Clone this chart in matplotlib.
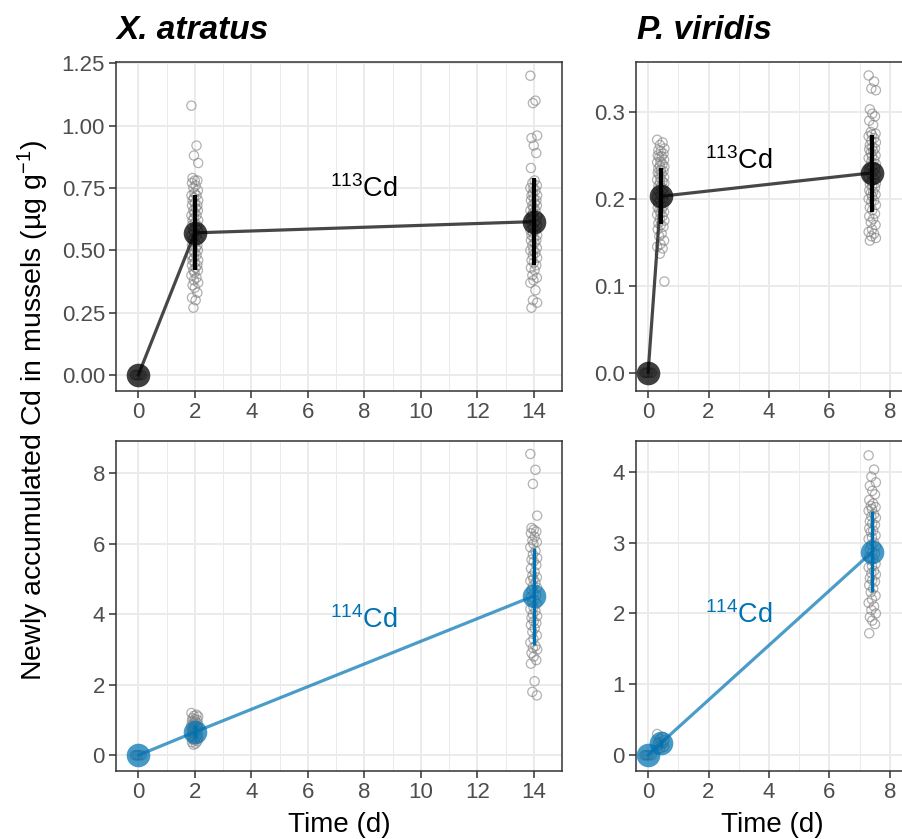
import matplotlib
matplotlib.use("Agg")
import matplotlib.pyplot as plt

plt.rcParams['font.family'] = ['Liberation Sans', 'DejaVu Sans']
plt.rcParams['mathtext.fontset'] = 'custom'
plt.rcParams['mathtext.rm'] = 'Liberation Sans'
plt.rcParams['mathtext.it'] = 'Liberation Sans:italic'
plt.rcParams['mathtext.bf'] = 'Liberation Sans:bold'

# ---------------- data ----------------
species = ['X. atratus', 'P. viridis']
isotope_labels = [r'$^{113}$Cd', r'$^{114}$Cd']

xa_time = [0, 2, 14]
pv_time = [0, 0.42, 7.42]

# X. atratus, 113Cd
xa113_mean = [0.0, 0.57, 0.615]
xa113_lo = [0.0, 0.42, 0.44]
xa113_hi = [0.0, 0.72, 0.79]
xa113_pts_t0 = [0, 0, 0, 0, 0, 0]
xa113_pts_t1 = [1.08, 0.92, 0.88, 0.85, 0.79, 0.78, 0.78, 0.77, 0.76, 0.75, 0.74, 0.73,
                0.72, 0.72, 0.71, 0.70, 0.70, 0.69, 0.68, 0.68, 0.67, 0.66, 0.66, 0.65,
                0.64, 0.64, 0.63, 0.62, 0.62, 0.61, 0.60, 0.60, 0.59, 0.58, 0.58, 0.57,
                0.56, 0.56, 0.55, 0.54, 0.54, 0.53, 0.52, 0.52, 0.51, 0.50, 0.50, 0.49,
                0.48, 0.48, 0.47, 0.46, 0.46, 0.45, 0.44, 0.44, 0.43, 0.42, 0.42, 0.41,
                0.40, 0.39, 0.38, 0.37, 0.36, 0.35, 0.33, 0.31, 0.30, 0.27]
xa113_pts_t2 = [1.20, 1.10, 1.09, 0.96, 0.95, 0.92, 0.89, 0.83, 0.78, 0.77, 0.76, 0.75,
                0.75, 0.74, 0.73, 0.72, 0.72, 0.71, 0.70, 0.70, 0.69, 0.68, 0.68, 0.67,
                0.66, 0.66, 0.65, 0.64, 0.64, 0.63, 0.62, 0.62, 0.61, 0.60, 0.60, 0.59,
                0.58, 0.58, 0.57, 0.56, 0.56, 0.55, 0.54, 0.54, 0.53, 0.52, 0.51, 0.50,
                0.50, 0.49, 0.48, 0.47, 0.46, 0.45, 0.44, 0.43, 0.42, 0.40, 0.39, 0.38,
                0.37, 0.34, 0.30, 0.29, 0.27]

# P. viridis, 113Cd
pv113_mean = [0.0, 0.203, 0.230]
pv113_lo = [0.0, 0.171, 0.185]
pv113_hi = [0.0, 0.235, 0.274]
pv113_pts_t0 = [0, 0, 0, 0, 0, 0]
pv113_pts_t1 = [0.268, 0.265, 0.262, 0.258, 0.256, 0.255, 0.252, 0.250, 0.249, 0.248,
                0.245, 0.243, 0.242, 0.240, 0.238, 0.237, 0.235, 0.233, 0.232, 0.230,
                0.229, 0.228, 0.225, 0.224, 0.222, 0.220, 0.219, 0.218, 0.215, 0.214,
                0.212, 0.210, 0.209, 0.207, 0.205, 0.204, 0.202, 0.200, 0.199, 0.197,
                0.195, 0.193, 0.192, 0.190, 0.188, 0.187, 0.185, 0.183, 0.182, 0.180,
                0.177, 0.175, 0.172, 0.170, 0.168, 0.165, 0.160, 0.157, 0.152, 0.148,
                0.145, 0.143, 0.137, 0.105]
pv113_pts_t2 = [0.342, 0.335, 0.327, 0.325, 0.303, 0.298, 0.295, 0.290, 0.285, 0.277,
                0.275, 0.274, 0.272, 0.270, 0.267, 0.265, 0.262, 0.260, 0.258, 0.257,
                0.255, 0.253, 0.250, 0.249, 0.247, 0.245, 0.243, 0.240, 0.238, 0.237,
                0.235, 0.233, 0.231, 0.230, 0.228, 0.227, 0.225, 0.223, 0.220, 0.218,
                0.217, 0.215, 0.213, 0.210, 0.208, 0.207, 0.205, 0.203, 0.200, 0.198,
                0.197, 0.193, 0.190, 0.187, 0.183, 0.180, 0.177, 0.173, 0.170, 0.165,
                0.162, 0.160, 0.157, 0.155, 0.152]

# X. atratus, 114Cd
xa114_mean = [0.0, 0.66, 4.52]
xa114_lo = [0.0, 0.48, 3.12]
xa114_hi = [0.0, 0.86, 5.88]
xa114_pts_t0 = [0, 0, 0, 0, 0, 0]
xa114_pts_t1 = [1.20, 1.15, 1.12, 1.10, 1.05, 1.02, 1.00, 0.97, 0.95, 0.92, 0.90, 0.88,
                0.85, 0.82, 0.80, 0.78, 0.75, 0.72, 0.70, 0.68, 0.65, 0.62, 0.60, 0.58,
                0.55, 0.52, 0.50, 0.48, 0.45, 0.42, 0.40, 0.37, 0.33, 0.30]
xa114_pts_t2 = [8.55, 8.10, 7.70, 6.80, 6.45, 6.40, 6.35, 6.30, 6.20, 6.10, 6.05, 6.00,
                5.90, 5.80, 5.70, 5.60, 5.55, 5.50, 5.40, 5.30, 5.20, 5.10, 5.05, 5.00,
                4.95, 4.90, 4.80, 4.75, 4.70, 4.60, 4.55, 4.50, 4.40, 4.35, 4.30, 4.20,
                4.15, 4.10, 4.00, 3.95, 3.90, 3.80, 3.75, 3.70, 3.60, 3.50, 3.40, 3.30,
                3.20, 3.10, 3.05, 3.00, 2.90, 2.80, 2.70, 2.60, 2.10, 1.80, 1.70]

# P. viridis, 114Cd
pv114_mean = [0.0, 0.17, 2.87]
pv114_lo = [0.0, 0.12, 2.31]
pv114_hi = [0.0, 0.22, 3.44]
pv114_pts_t0 = [0, 0, 0, 0, 0, 0]
pv114_pts_t1 = [0.30, 0.26, 0.23, 0.21, 0.19, 0.18, 0.17, 0.16, 0.15, 0.14, 0.12, 0.10, 0.08]
pv114_pts_t2 = [4.23, 4.03, 3.93, 3.85, 3.80, 3.73, 3.68, 3.60, 3.55, 3.52, 3.50, 3.47,
                3.45, 3.40, 3.37, 3.35, 3.30, 3.27, 3.25, 3.20, 3.17, 3.15, 3.10, 3.07,
                3.05, 3.00, 2.97, 2.95, 2.90, 2.87, 2.85, 2.80, 2.77, 2.75, 2.70, 2.67,
                2.65, 2.60, 2.57, 2.55, 2.50, 2.47, 2.45, 2.40, 2.35, 2.30, 2.25, 2.20,
                2.15, 2.10, 2.05, 2.00, 1.95, 1.90, 1.85, 1.72]

xa_xticks = [0, 2, 4, 6, 8, 10, 12, 14]
pv_xticks = [0, 2, 4, 6, 8]
xa113_yticks = [0.00, 0.25, 0.50, 0.75, 1.00, 1.25]
pv113_yticks = [0.0, 0.1, 0.2, 0.3]
xa114_yticks = [0, 2, 4, 6, 8]
pv114_yticks = [0, 1, 2, 3, 4]

# ---------------- styling ----------------
W, H = 903, 839
DARK = '#333333'
GRID = '#EBEBEB'
BLUE = '#0072B2'
JITTER = [-0.12, 0.06, -0.03, 0.12, -0.08, 0.0, 0.09, -0.10, 0.03, -0.05, 0.11, -0.01]

def frac_box(l, t, r, b):
    return [l / W, 1 - b / H, (r - l) / W, (b - t) / H]

fig = plt.figure(figsize=(W / 100, H / 100), dpi=100)

panels = [
    dict(box=frac_box(116, 62, 562, 391), time=xa_time, mean=xa113_mean, lo=xa113_lo, hi=xa113_hi,
         pts=[xa113_pts_t0, xa113_pts_t1, xa113_pts_t2], xlim=(-0.79, 14.79), ylim=(-0.064, 1.255),
         xticks=xa_xticks, yticks=xa113_yticks, yfmt='{:.2f}', iso=0, label_xy=(8, 0.745),
         title=species[0], xlab_x=339),
    dict(box=frac_box(636, 62, 920, 391), time=pv_time, mean=pv113_mean, lo=pv113_lo, hi=pv113_hi,
         pts=[pv113_pts_t0, pv113_pts_t1, pv113_pts_t2], xlim=(-0.40, 8.70), ylim=(-0.021, 0.3575),
         xticks=pv_xticks, yticks=pv113_yticks, yfmt='{:.1f}', iso=0, label_xy=(3, 0.243),
         title=species[1], xlab_x=772),
    dict(box=frac_box(116, 441, 562, 771), time=xa_time, mean=xa114_mean, lo=xa114_lo, hi=xa114_hi,
         pts=[xa114_pts_t0, xa114_pts_t1, xa114_pts_t2], xlim=(-0.79, 14.79), ylim=(-0.446, 8.918),
         xticks=xa_xticks, yticks=xa114_yticks, yfmt='{:.0f}', iso=1, label_xy=(8, 3.85),
         title=None, xlab_x=339),
    dict(box=frac_box(636, 441, 920, 771), time=pv_time, mean=pv114_mean, lo=pv114_lo, hi=pv114_hi,
         pts=[pv114_pts_t0, pv114_pts_t1, pv114_pts_t2], xlim=(-0.40, 8.70), ylim=(-0.222, 4.433),
         xticks=pv_xticks, yticks=pv114_yticks, yfmt='{:.0f}', iso=1, label_xy=(3, 1.98),
         title=None, xlab_x=772),
]

for p in panels:
    ax = fig.add_axes(p['box'])
    ax.set_xlim(*p['xlim'])
    ax.set_ylim(*p['ylim'])
    ax.set_xticks(p['xticks'])
    ax.set_xticks([t + 1 for t in p['xticks']], minor=True)
    ax.set_yticks(p['yticks'])
    ax.set_yticklabels([p['yfmt'].format(v) for v in p['yticks']])
    ax.grid(True, which='major', color=GRID, lw=1.4, zorder=0)
    ax.grid(True, which='minor', axis='x', color=GRID, lw=0.7, zorder=0)
    ax.set_axisbelow(True)
    for s in ax.spines.values():
        s.set_color(DARK)
        s.set_linewidth(1.1)
    ax.tick_params(which='major', length=4.8, width=1.1, color=DARK, labelcolor='#4D4D4D',
                   labelsize=16, pad=3.2)
    ax.tick_params(which='minor', length=0)

    iso = p['iso']
    if iso == 0:
        line_col, line_alpha = DARK, 0.9
        mean_col, mean_alpha = 'black', 0.75
        err_col, err_lw = 'black', 3.0
        txt_col = 'black'
    else:
        line_col, line_alpha = BLUE, 0.7
        mean_col, mean_alpha = BLUE, 0.72
        err_col, err_lw = BLUE, 2.4
        txt_col = BLUE

    for t, vals in zip(p['time'], p['pts']):
        xs = [t + JITTER[i % len(JITTER)] for i in range(len(vals))]
        ax.scatter(xs, vals, s=44, facecolors='none', edgecolors='#7F7F7F',
                   linewidths=0.9, alpha=0.6, zorder=2)

    ax.plot(p['time'], p['mean'], '-', color=line_col, alpha=line_alpha, lw=2.3, zorder=3)
    ax.plot(p['time'], p['mean'], 'o', color=mean_col, alpha=mean_alpha, ms=17,
            mec='none', zorder=4)
    ax.vlines(p['time'], p['lo'], p['hi'], color=err_col, lw=err_lw, zorder=5)

    ax.text(p['label_xy'][0], p['label_xy'][1], isotope_labels[iso], color=txt_col,
            fontsize=19.5, ha='center', va='center', zorder=6)

    if p['title']:
        fig.text(p['box'][0] + 1 / W, 1 - 39 / H, p['title'], fontsize=24,
                 fontweight='bold', fontstyle='italic', ha='left', va='baseline')
    else:
        fig.text(p['xlab_x'] / W, 1 - 832 / H, 'Time (d)', fontsize=20, ha='center',
                 va='baseline')

fig.text(33 / W, 1 - 411 / H, 'Newly accumulated Cd in mussels (µg g$^{-1}$)', fontsize=20.5,
         rotation=90, ha='center', va='center')

fig.savefig('out.png', dpi=100)
